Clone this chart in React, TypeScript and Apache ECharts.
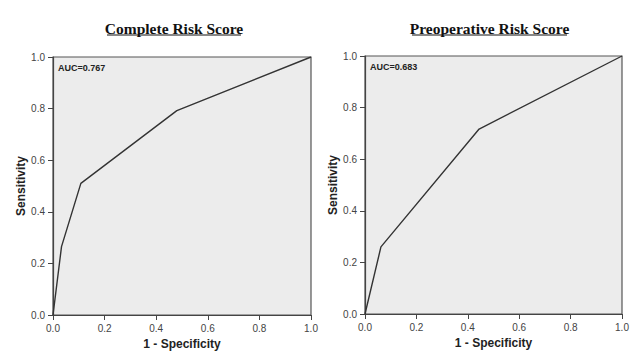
import React, { useEffect, useRef } from "react";
import * as echarts from "echarts";

const titles = ["Complete Risk Score", "Preoperative Risk Score"];
const aucLabels = ["AUC=0.767", "AUC=0.683"];
const completeFpr = [0, 0.033, 0.108, 0.48, 1];
const completeTpr = [0, 0.265, 0.51, 0.792, 1];
const preopFpr = [0, 0.062, 0.444, 1];
const preopTpr = [0, 0.26, 0.717, 1];
const xName = "1 - Specificity";
const yName = "Sensitivity";

export default function App() {
  const ref = useRef<HTMLDivElement>(null);
  useEffect(() => {
    if (!ref.current) return;
    const chart = echarts.init(ref.current, null, { renderer: "svg" });
    const grids = [
      { left: 53, top: 57, width: 258, height: 258 },
      { left: 365, top: 56, width: 257, height: 258 },
    ];
    const axisCommon = {
      type: "value" as const,
      min: 0,
      max: 1,
      interval: 0.2,
      splitLine: { show: false },
      axisLine: { show: true, lineStyle: { color: "#444", width: 1.2 } },
      axisTick: { show: true, length: 5, lineStyle: { color: "#444" } },
      axisLabel: {
        color: "#444",
        fontSize: 10,
        fontFamily: "Liberation Sans",
        formatter: (v: number) => v.toFixed(1),
      },
      nameTextStyle: {
        color: "#222",
        fontSize: 12,
        fontWeight: "bold" as const,
        fontFamily: "Liberation Sans",
      },
    };
    const titleCenters = [174, 489.5];
    const titleWidths = [134, 155];
    chart.setOption({
      animation: false,
      backgroundColor: "#fff",
      graphic: [
        ...titles.map((t, i) => ({
          type: "text",
          x: titleCenters[i],
          y: 36.5,
          style: {
            text: t,
            align: "center",
            verticalAlign: "bottom",
            fontFamily: "Liberation Serif",
            fontWeight: "bold",
            fontSize: 15.5,
            fill: "#111",
          },
        })),
        ...titleCenters.map((c, i) => ({
          type: "line",
          shape: { x1: c - titleWidths[i] / 2, y1: 35, x2: c + titleWidths[i] / 2, y2: 35 },
          style: { stroke: "#111", lineWidth: 1 },
        })),
        ...aucLabels.map((a, i) => ({
          type: "text",
          left: grids[i].left + 5,
          top: grids[i].top + 6,
          style: {
            text: a,
            fontSize: 9,
            fontWeight: "bold",
            fontFamily: "Liberation Sans",
            fill: "#222",
          },
        })),
      ],
      grid: grids.map((g) => ({
        ...g,
        show: true,
        backgroundColor: "#ececec",
        borderColor: "#555",
        borderWidth: 1.2,
      })),
      xAxis: grids.map((_, i) => ({
        ...axisCommon,
        gridIndex: i,
        name: xName,
        nameLocation: "middle",
        nameGap: 21,
      })),
      yAxis: grids.map((_, i) => ({
        ...axisCommon,
        gridIndex: i,
        name: yName,
        nameLocation: "middle",
        nameGap: 24,
      })),
      series: [
        {
          type: "line",
          xAxisIndex: 0,
          yAxisIndex: 0,
          data: completeFpr.map((x, k) => [x, completeTpr[k]]),
          showSymbol: false,
          lineStyle: { color: "#333", width: 1.4 },
        },
        {
          type: "line",
          xAxisIndex: 1,
          yAxisIndex: 1,
          data: preopFpr.map((x, k) => [x, preopTpr[k]]),
          showSymbol: false,
          lineStyle: { color: "#333", width: 1.4 },
        },
      ],
    });
    return () => chart.dispose();
  }, []);
  return <div ref={ref} style={{ width: 640, height: 357, position: "absolute", left: 0, top: 0 }} />;
}
